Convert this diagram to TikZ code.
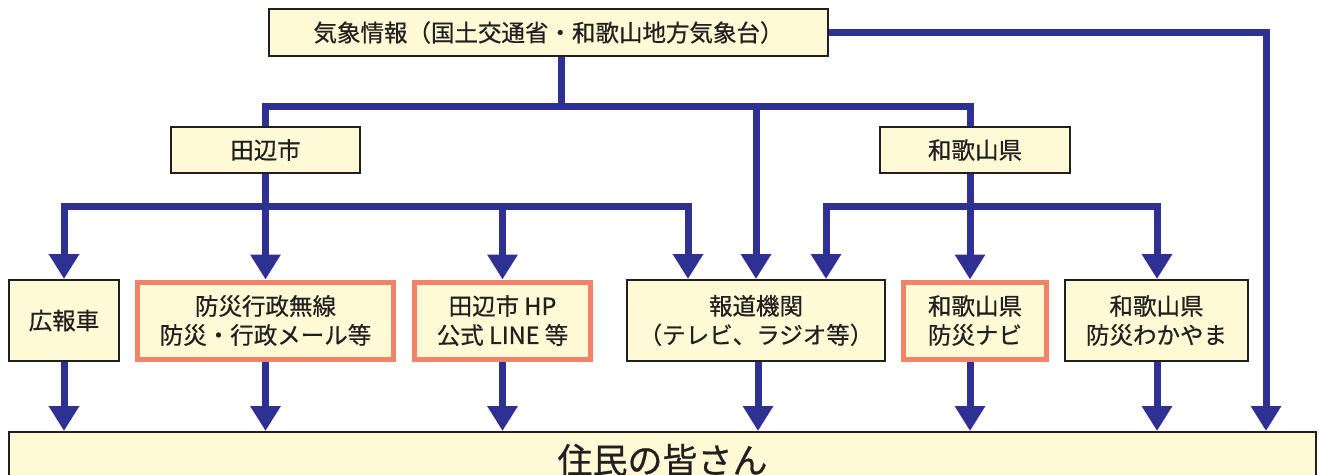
\documentclass[tikz,border=0pt]{standalone}
\usepackage{fontspec}
\setmainfont{Noto Sans CJK JP}[FakeBold=0.6]
\usetikzlibrary{arrows.meta}
\definecolor{cream}{HTML}{FFFAD6}
\definecolor{txt}{HTML}{231F20}
\definecolor{orng}{HTML}{F2836B}
\definecolor{navy}{HTML}{2E3192}
\tikzset{
  box/.style={draw=txt, line width=2pt, fill=cream, inner sep=0pt, align=center,
    text=txt, font=\fontsize{23.5}{29}\selectfont},
  obox/.style={box, draw=orng, line width=5pt},
  ln/.style={draw=navy, line width=7pt, line join=miter},
  arr/.style={ln, -{Triangle[width=29pt,length=25pt]}},
}
\begin{document}
\begin{tikzpicture}[x=1pt,y=-1pt]
\useasboundingbox (0,0) rectangle (1319,474);
\clip (0,0) rectangle (1319,474);
% nodes
\node[box, minimum width=559pt, minimum height=47pt] (top) at (548.5,32.5) {気象情報（国土交通省・和歌山地方気象台）};
\node[box, minimum width=189pt, minimum height=46pt] (tanabe) at (265.5,150) {田辺市};
\node[box, minimum width=190pt, minimum height=46pt] (wakayama) at (975,150) {和歌山県};
\node[box, minimum width=110pt, minimum height=81pt] (kouhou) at (64,320.5) {広報車};
\node[obox, minimum width=256pt, minimum height=77pt] (musen) at (265.5,320.5) {防災行政無線\\防災・行政メール等};
\node[obox, minimum width=176pt, minimum height=77pt] (hp) at (502.5,320.5) {田辺市 HP\\公式 LINE 等};
\node[box, minimum width=258pt, minimum height=81pt] (houdou) at (756,320.5) {報道機関\\（テレビ、ラジオ等）};
\node[obox, minimum width=143pt, minimum height=77pt] (navi) at (975,320.5) {和歌山県\\防災ナビ};
\node[box, minimum width=183pt, minimum height=81pt] (wak2) at (1156.5,320.5) {和歌山県\\防災わかやま};
\node[box, minimum width=1307pt, minimum height=56pt, font=\fontsize{35}{40}\selectfont] (bottom) at (662.5,460) {住民の皆さん};
% helper coordinates
\coordinate (busT) at (561,106);
\coordinate (busA) at (265,206);
\coordinate (busB) at (970,206);
\coordinate (rx) at (1266,0);
% top level
\draw[ln] ([xshift=12.5pt]top.south) -- (busT);
\draw[ln] (tanabe.north) |- (busT) -| ([xshift=-5pt]wakayama.north);
\draw[arr] (busT -| houdou.north) -- (houdou.north);
\draw[arr] (top.east) -| (bottom.north -| rx);
% Tanabe level
\draw[ln] (tanabe.south) -- (tanabe.south |- busA);
\draw[arr] (busA) -| (kouhou.north);
\draw[arr] (busA) -| ([xshift=-68pt]houdou.north);
\draw[arr] (busA -| musen.north) -- (musen.north);
\draw[arr] (busA -| hp.north) -- (hp.north);
% Wakayama level
\draw[ln] ([xshift=-5pt]wakayama.south) -- (busB);
\draw[arr] (busB) -| ([xshift=70pt]houdou.north);
\draw[arr] (busB) -| ([xshift=0.5pt]wak2.north);
\draw[arr] (busB) -- ([xshift=-5pt]navi.north);
% to residents
\draw[arr] (kouhou.south) -- (kouhou.south |- bottom.north);
\draw[arr] (musen.south) -- (musen.south |- bottom.north);
\draw[arr] (hp.south) -- (hp.south |- bottom.north);
\draw[arr] ([xshift=2pt]houdou.south) -- ([xshift=2pt]houdou.south |- bottom.north);
\draw[arr] ([xshift=-5pt]navi.south) -- ([xshift=-5pt]navi.south |- bottom.north);
\draw[arr] ([xshift=0.5pt]wak2.south) -- ([xshift=0.5pt]wak2.south |- bottom.north);
\end{tikzpicture}
\end{document}
